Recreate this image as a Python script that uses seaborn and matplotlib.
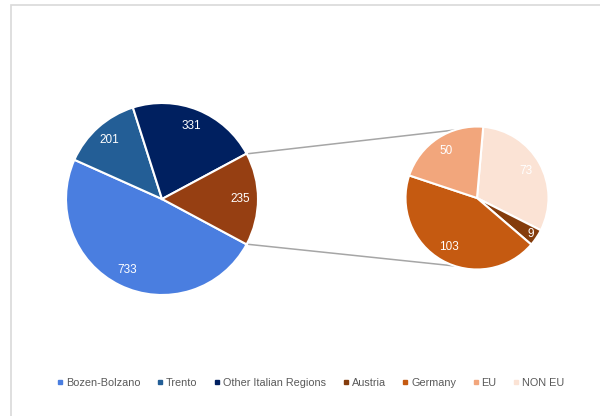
import matplotlib
matplotlib.use("Agg")
import matplotlib.pyplot as plt
from matplotlib.lines import Line2D
from matplotlib.patches import Rectangle
import numpy as np
import seaborn as sns

sns.set_theme(style="white")
plt.rcParams["font.family"] = ["Liberation Sans", "DejaVu Sans"]

# Origin of guests: main breakdown
main_labels = ["Bozen-Bolzano", "Trento", "Other Italian Regions", "Austria"]
main_values = [733, 201, 331, 235]
main_colors = ["#4A7EE0", "#235E96", "#002060", "#963F12"]

# Breakdown of the foreign slice
sub_labels = ["NON EU", "Austria", "Germany", "EU"]
sub_values = [73, 9, 103, 50]
sub_colors = ["#FBE3D5", "#843C0C", "#C55A11", "#F2A67C"]

legend_labels = ["Bozen-Bolzano", "Trento", "Other Italian Regions",
                 "Austria", "Germany", "EU", "NON EU"]
legend_colors = ["#4A7EE0", "#235E96", "#002060", "#843C0C",
                 "#C55A11", "#F2A67C", "#FBE3D5"]

W, H = 600, 416
fig = plt.figure(figsize=(W / 100, H / 100), dpi=100)
ax = fig.add_axes([0, 0, 1, 1])

# chart frame
fig.patches.append(Rectangle((11 / W, -0.2), 1.2, 1 - 5 / H + 0.2,
                             transform=fig.transFigure, fill=False,
                             edgecolor="#D9D9D9", linewidth=1.2))

main_center = (162, H - 199)
main_r = 96
sub_center = (477, H - 198)
sub_r = 71.5

wedge_style = dict(edgecolor="white", linewidth=1.5)

# main pie: foreign slice centred on the right-hand side
main_start = -(main_values[3] / sum(main_values)) * 180
w1, _, t1 = ax.pie(main_values, colors=main_colors, center=main_center,
                   radius=main_r, startangle=main_start, counterclock=False,
                   wedgeprops=wedge_style, autopct=lambda p: "",
                   pctdistance=0.82, frame=True)
for t, v in zip(t1, main_values):
    t.set_text(str(v))
    t.set_color("white")
    t.set_fontsize(8.5)

# secondary pie
w2, _, t2 = ax.pie(sub_values, colors=sub_colors, center=sub_center,
                   radius=sub_r, startangle=85, counterclock=False,
                   wedgeprops=wedge_style, autopct=lambda p: "",
                   pctdistance=0.79, frame=True)
for t, v in zip(t2, sub_values):
    t.set_text(str(v))
    t.set_color("white")
    t.set_fontsize(8.5)
# the thin slice label sits nearer the rim
idx9 = sub_values.index(9)
theta = np.deg2rad((w2[idx9].theta1 + w2[idx9].theta2) / 2)
t2[idx9].set_position((sub_center[0] + 0.9 * sub_r * np.cos(theta),
                       sub_center[1] + 0.9 * sub_r * np.sin(theta)))

ax.set_xlim(0, W)
ax.set_ylim(0, H)
ax.set_aspect("equal")
ax.axis("off")

# connector lines between the two pies
half = np.deg2rad(abs(main_start))
for sgn in (1, -1):
    p0 = (main_center[0] + main_r * np.cos(half) + 2,
          main_center[1] + sgn * main_r * np.sin(half))
    a = np.deg2rad(sgn * 108)
    p1 = (sub_center[0] + sub_r * np.cos(a), sub_center[1] + sub_r * np.sin(a))
    ax.plot([p0[0], p1[0]], [p0[1], p1[1]], color="#A6A6A6", lw=1.1,
            zorder=0)

handles = [Line2D([], [], marker="s", linestyle="none", markersize=3.5,
                  markerfacecolor=c, markeredgecolor=c) for c in legend_colors]
fig.legend(handles, legend_labels, loc="center", ncol=7,
           bbox_to_anchor=(311 / W, 1 - 383 / H), frameon=False,
           fontsize=7.8, labelcolor="#595959", handlelength=0.5,
           handletextpad=0.3, columnspacing=1.55)

fig.savefig("out.png", dpi=100, facecolor="white")
